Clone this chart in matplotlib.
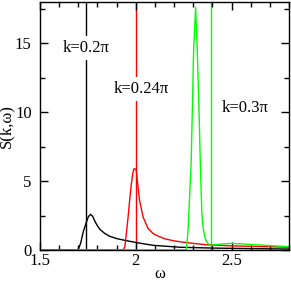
import matplotlib
matplotlib.use("Agg")
import matplotlib.pyplot as plt
from matplotlib.ticker import MultipleLocator

plt.rcParams['font.family'] = ['Liberation Serif', 'DejaVu Serif']
plt.rcParams['font.size'] = 12

# k = 0.2 pi (black)
w_k1 = [1.50, 1.69, 1.70, 1.712, 1.726, 1.74, 1.752, 1.764, 1.775, 1.786, 1.80, 1.8125,
        1.84, 1.865, 1.90, 1.95, 2.02, 2.09, 2.23, 2.40, 2.60, 2.80]
s_k1 = [0.0, 0.0, 0.05, 0.48, 1.33, 1.93, 2.41, 2.59, 2.45, 2.1, 1.75, 1.5,
        1.18, 0.99, 0.83, 0.68, 0.5, 0.34, 0.2, 0.14, 0.1, 0.07]

# k = 0.24 pi (red)
w_k2 = [1.50, 1.935, 1.943, 1.95, 1.96, 1.968, 1.977, 1.985, 1.991, 2.002, 2.01, 2.02,
        2.038, 2.064, 2.09, 2.116, 2.15, 2.194, 2.23, 2.30, 2.37, 2.50, 2.65, 2.80]
s_k2 = [0.0, 0.0, 0.24, 1.1, 2.4, 3.6, 4.8, 5.6, 5.9, 5.85, 4.8, 3.6,
        2.4, 1.57, 1.2, 1.01, 0.82, 0.68, 0.6, 0.48, 0.38, 0.3, 0.25, 0.2]

# k = 0.3 pi (green)
w_k3 = [1.50, 2.262, 2.266, 2.273, 2.281, 2.289, 2.293, 2.302, 2.3125, 2.321, 2.333,
        2.337, 2.345, 2.352, 2.36, 2.368, 2.377, 2.39, 2.40, 2.45, 2.49, 2.55, 2.59,
        2.70, 2.80]
s_k3 = [0.0, 0.0, 0.3, 1.45, 3.86, 6.3, 8.7, 14.5, 17.6, 14.5, 8.7,
        6.3, 2.66, 1.6, 0.97, 0.65, 0.48, 0.32, 0.36, 0.44, 0.48, 0.45, 0.41,
        0.32, 0.24]

# vertical markers and labels
w_lines = [1.74, 2.0, 2.395]
colors = ['black', 'red', '#00ff00']
labels = ['k=0.2π', 'k=0.24π', 'k=0.3π']
label_xy = [(1.742, 14.64), (2.029, 11.67), (2.572, 10.29)]

fig = plt.figure(figsize=(2.91, 2.81), dpi=100)
ax = fig.add_axes([40 / 291, 31 / 281, 249 / 291, 248 / 281])

for w0, c in zip(w_lines, colors):
    ax.axvline(w0, color=c, lw=1.0, zorder=1)

for w, s, c in zip([w_k1, w_k2, w_k3], [s_k1, s_k2, s_k3], colors):
    ax.plot(w, s, color=c, lw=1.0, zorder=2)

for (tx, ty), txt in zip(label_xy, labels):
    ax.text(tx, ty, txt, ha='center', va='center', zorder=3,
            bbox=dict(facecolor='white', edgecolor='none', pad=3))

ax.set_xlim(1.5, 2.8)
ax.set_ylim(0, 18)
ax.xaxis.set_minor_locator(MultipleLocator(0.1))
ax.yaxis.set_major_locator(MultipleLocator(5))
ax.yaxis.set_minor_locator(MultipleLocator(2.5))
ax.set_xticks([1.5, 2.0, 2.5])
ax.set_xticklabels(['1.5', '2', '2.5'])
ax.tick_params(which='both', direction='in', top=True, right=True, width=1.0)
ax.tick_params(which='major', length=5.5)
ax.tick_params(which='minor', length=3.5)
ax.tick_params(axis='x', which='major', pad=2)
ax.tick_params(axis='y', which='major', pad=6)
for sp in ax.spines.values():
    sp.set_linewidth(1.0)

ax.set_xlabel('ω')
ax.xaxis.set_label_coords(0.482, -0.064)
ax.set_ylabel('S(k,ω)')
ax.yaxis.set_label_coords(-0.102, 0.5)

fig.savefig('out.png', dpi=100)
